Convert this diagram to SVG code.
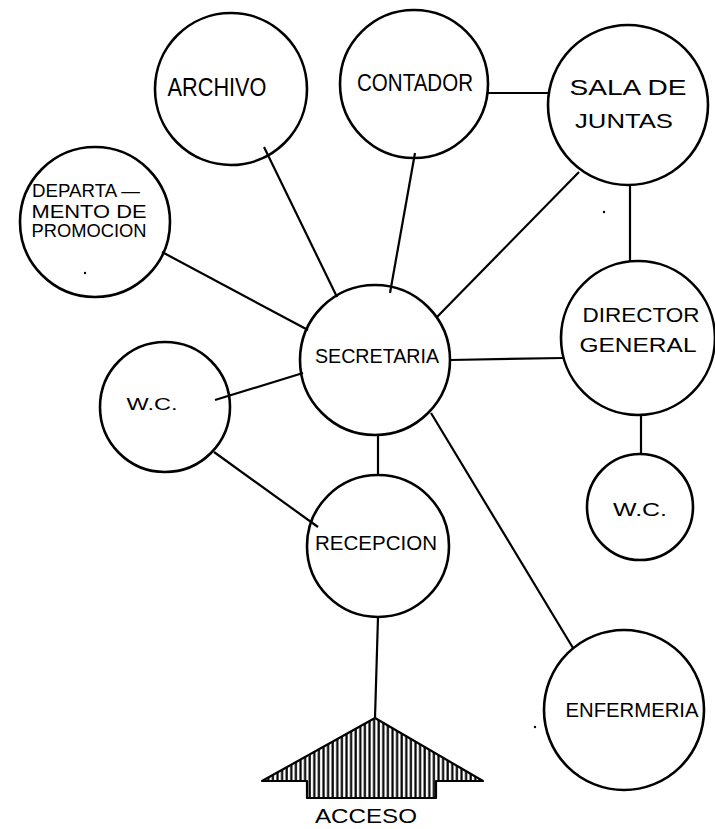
<svg xmlns="http://www.w3.org/2000/svg" width="715" height="829" viewBox="0 0 715 829">
<defs>
<style>
.n{fill:none;stroke:#000;stroke-width:2.6}
.c line{stroke:#000;stroke-width:2.2}
text{font-family:"Liberation Sans","DejaVu Sans",sans-serif;fill:#000;text-anchor:middle}
</style>
<pattern id="hatch" patternUnits="userSpaceOnUse" width="4.6" height="10">
<rect width="4.6" height="10" fill="#fff"/>
<line x1="1.5" y1="0" x2="1.5" y2="10" stroke="#000" stroke-width="2.2"/>
</pattern>
</defs>
<rect width="715" height="829" fill="#fff"/>
<g id="connectors" class="c">
<line x1="264" y1="147" x2="337" y2="297"/>
<line x1="415" y1="153" x2="390" y2="293"/>
<line x1="579" y1="172" x2="437" y2="317"/>
<line x1="162" y1="252" x2="308" y2="330"/>
<line x1="488" y1="93" x2="548" y2="93"/>
<line x1="630" y1="185" x2="630" y2="261"/>
<line x1="450" y1="360" x2="563" y2="358"/>
<line x1="641" y1="415" x2="641" y2="454"/>
<line x1="215" y1="400" x2="303" y2="373"/>
<line x1="214" y1="452" x2="318" y2="527"/>
<line x1="378" y1="434" x2="378" y2="476"/>
<line x1="431" y1="413" x2="573" y2="648"/>
<line x1="378" y1="617" x2="375" y2="718"/>
</g>
<g id="archivo"><circle class="n" cx="231" cy="89" r="76"/><text x="217" y="96" font-size="25" textLength="99" lengthAdjust="spacingAndGlyphs">ARCHIVO</text></g>
<g id="contador"><circle class="n" cx="414" cy="84" r="74"/><text x="415" y="91" font-size="24" textLength="116" lengthAdjust="spacingAndGlyphs">CONTADOR</text></g>
<g id="sala"><circle class="n" cx="628" cy="105" r="80"/><text x="628" y="95" font-size="22" textLength="117" lengthAdjust="spacingAndGlyphs">SALA  DE</text><text x="624" y="128" font-size="21" textLength="98" lengthAdjust="spacingAndGlyphs">JUNTAS</text></g>
<g id="departamento"><circle class="n" cx="95" cy="222" r="75"/><text x="86" y="197" font-size="19" textLength="108" lengthAdjust="spacingAndGlyphs">DEPARTA —</text><text x="89" y="218" font-size="19" textLength="115" lengthAdjust="spacingAndGlyphs">MENTO  DE</text><text x="89" y="237" font-size="19" textLength="115" lengthAdjust="spacingAndGlyphs">PROMOCION</text><circle cx="85" cy="273" r="1.2" fill="#000"/></g>
<g id="secretaria"><circle class="n" cx="375" cy="360" r="75"/><text x="377" y="363" font-size="20" textLength="124" lengthAdjust="spacingAndGlyphs">SECRETARIA</text></g>
<g id="director"><circle class="n" cx="638" cy="338" r="77"/><text x="641" y="322" font-size="20" textLength="117" lengthAdjust="spacingAndGlyphs">DIRECTOR</text><text x="638" y="352" font-size="20" textLength="117" lengthAdjust="spacingAndGlyphs">GENERAL</text></g>
<g id="wc-left"><circle class="n" cx="165" cy="407" r="65"/><text x="152" y="410" font-size="17" textLength="51" lengthAdjust="spacingAndGlyphs">W.C.</text></g>
<g id="wc-right"><circle class="n" cx="640" cy="507" r="53"/><text x="640" y="516" font-size="19" textLength="54" lengthAdjust="spacingAndGlyphs">W.C.</text></g>
<g id="recepcion"><circle class="n" cx="378" cy="546" r="71"/><text x="376" y="550" font-size="20" textLength="122" lengthAdjust="spacingAndGlyphs">RECEPCION</text></g>
<g id="enfermeria"><circle class="n" cx="624" cy="710" r="80"/><text x="632" y="717" font-size="20" textLength="133" lengthAdjust="spacingAndGlyphs">ENFERMERIA</text></g>
<g id="acceso"><polygon points="262,781 375,718 483,781 436,781 436,798 307,798 307,781" fill="url(#hatch)" stroke="#000" stroke-width="2.2" stroke-linejoin="round"/><text x="366" y="823" font-size="21" textLength="102" lengthAdjust="spacingAndGlyphs">ACCESO</text></g>
<circle cx="604" cy="212" r="1.2" fill="#000"/>
<circle cx="535" cy="727" r="1.2" fill="#000"/>
</svg>
